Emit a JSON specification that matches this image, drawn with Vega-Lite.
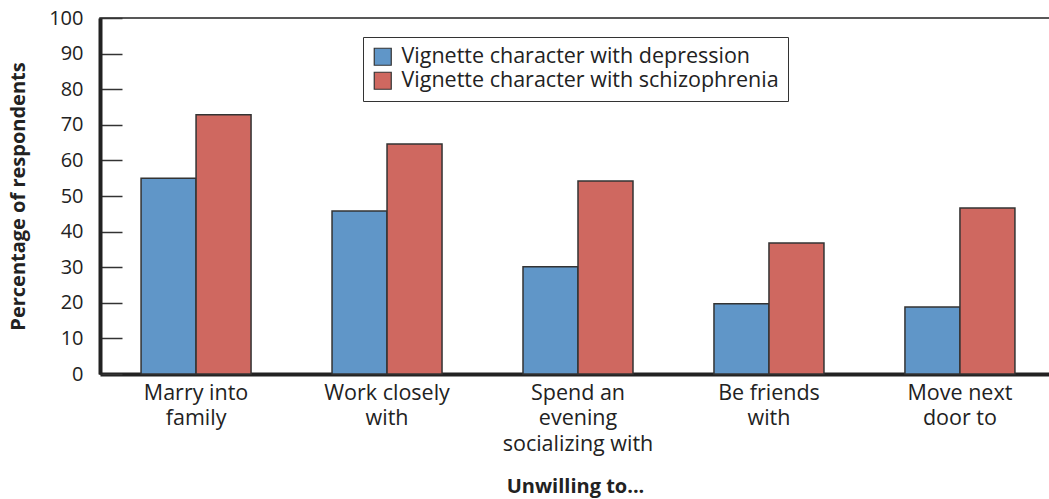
{
  "$schema": "https://vega.github.io/schema/vega-lite/v6.json",
  "autosize": "none",
  "padding": {"left": 100, "top": 18, "right": 0, "bottom": 125},
  "width": 956,
  "height": 356,
  "background": "white",
  "config": {
    "font": "Open Sans",
    "view": {"stroke": "#222", "strokeWidth": 1.5}
  },
  "data": {
    "values": [
      {"activity": "Marry into family", "group": "Vignette character with depression", "pct": 55},
      {"activity": "Marry into family", "group": "Vignette character with schizophrenia", "pct": 72.8},
      {"activity": "Work closely with", "group": "Vignette character with depression", "pct": 45.8},
      {"activity": "Work closely with", "group": "Vignette character with schizophrenia", "pct": 64.6},
      {"activity": "Spend an evening socializing with", "group": "Vignette character with depression", "pct": 30.1},
      {"activity": "Spend an evening socializing with", "group": "Vignette character with schizophrenia", "pct": 54.2},
      {"activity": "Be friends with", "group": "Vignette character with depression", "pct": 19.7},
      {"activity": "Be friends with", "group": "Vignette character with schizophrenia", "pct": 36.8},
      {"activity": "Move next door to", "group": "Vignette character with depression", "pct": 18.8},
      {"activity": "Move next door to", "group": "Vignette character with schizophrenia", "pct": 46.6}
    ]
  },
  "mark": {"type": "bar", "stroke": "#333", "strokeWidth": 1.5},
  "encoding": {
    "x": {
      "field": "activity",
      "type": "nominal",
      "sort": ["Marry into family", "Work closely with", "Spend an evening socializing with", "Be friends with", "Move next door to"],
      "scale": {"paddingInner": 0.424, "paddingOuter": 0.215},
      "axis": {
        "title": "Unwilling to...",
        "titleFontSize": 20,
        "titleFontWeight": "bold",
        "titleColor": "#222",
        "titlePadding": 22,
        "titleX": 475,
        "labelAngle": 0,
        "labelFontSize": 21.5,
        "labelColor": "#222",
        "labelLineHeight": 25.5,
        "labelPadding": 8,
        "ticks": false,
        "domainColor": "#222",
        "domainWidth": 4,
        "labelExpr": "datum.value == 'Marry into family' ? ['Marry into', 'family'] : datum.value == 'Work closely with' ? ['Work closely', 'with'] : datum.value == 'Spend an evening socializing with' ? ['Spend an', 'evening', 'socializing with'] : datum.value == 'Be friends with' ? ['Be friends', 'with'] : ['Move next', 'door to']"
      }
    },
    "xOffset": {
      "field": "group",
      "type": "nominal",
      "sort": ["Vignette character with depression", "Vignette character with schizophrenia"],
      "scale": {"paddingInner": 0, "paddingOuter": 0}
    },
    "y": {
      "field": "pct",
      "type": "quantitative",
      "scale": {"domain": [0, 100]},
      "axis": {
        "title": "Percentage of respondents",
        "titleFontSize": 20,
        "titleFontWeight": "bold",
        "titleColor": "#222",
        "titlePadding": 20,
        "values": [0, 10, 20, 30, 40, 50, 60, 70, 80, 90, 100],
        "labelFontSize": 20,
        "labelColor": "#222",
        "labelPadding": 39,
        "tickSize": -22,
        "tickColor": "#333",
        "tickWidth": 1.5,
        "domainColor": "#222",
        "domainWidth": 4,
        "grid": false
      }
    },
    "color": {
      "field": "group",
      "type": "nominal",
      "sort": ["Vignette character with depression", "Vignette character with schizophrenia"],
      "scale": {"range": ["#6096c8", "#cf6860"]},
      "legend": {
        "title": null,
        "orient": "none",
        "legendX": 263,
        "legendY": 19,
        "fillColor": "white",
        "strokeColor": "#333",
        "padding": 9,
        "symbolType": "square",
        "symbolSize": 289,
        "symbolStrokeColor": "#333",
        "symbolStrokeWidth": 1.2,
        "symbolOpacity": 1,
        "labelFontSize": 21.5,
        "labelColor": "#222",
        "labelLimit": 500,
        "rowPadding": 1,
        "labelOffset": 8
      }
    }
  }
}
